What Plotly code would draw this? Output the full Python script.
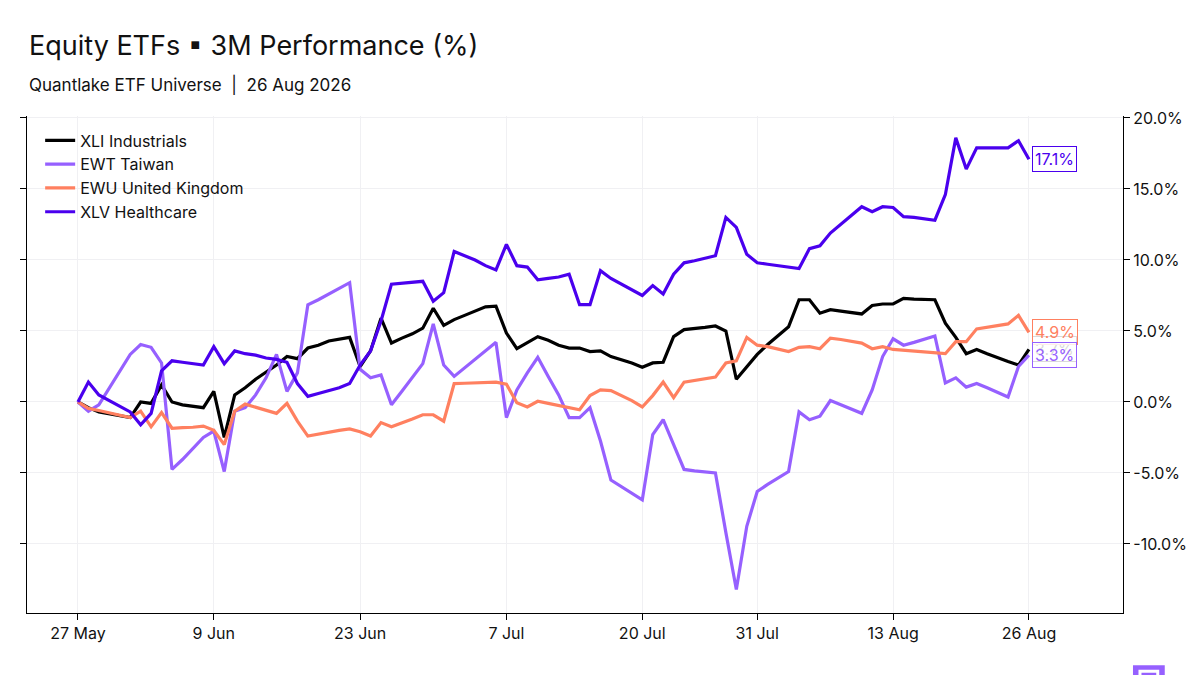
import pandas as pd
import plotly.graph_objects as go

dates = pd.date_range("2026-05-27", "2026-08-26", freq="D")

xli = [0, -0.4, -0.7, -0.85, -1.0, -1.1, 0, -0.1, 1.2, 0, -0.2, -0.3, -0.4, 0.75, -2.5, 0.5,
       1.0, 1.6, 2.1, 2.6, 3.2, 3.05, 3.8, 4.0, 4.3, 4.4, 4.55, 2.5, 3.6, 5.9, 4.15, 4.5,
       4.8, 5.2, 6.6, 5.4, 5.8, 6.1, 6.4, 6.7, 6.75, 4.85, 3.75, 4.15, 4.6, 4.35, 4.0, 3.8,
       3.8, 3.55, 3.6, 3.2, 3.0, 2.75, 2.45, 2.75, 2.8, 4.6, 5.1, 5.15, 5.25, 5.35, 5.0, 1.6,
       2.5, 3.35, 4.05, 4.7, 5.3, 7.2, 7.2, 6.25, 6.5, 6.4, 6.3, 6.2, 6.8, 6.9, 6.9, 7.3,
       7.25, 7.22, 7.2, 5.55, 4.55, 3.4, 3.7, 3.4, 3.1, 2.85, 2.6, 3.7]
ewt = [0, -0.65, -0.2, 1.0, 2.15, 3.35, 4.05, 3.85, 2.75, -4.75, -4.05, -3.25, -2.5, -2.05, -4.9, -0.65,
       -0.4, 0.5, 1.7, 3.35, 0.75, 2.05, 6.85, 7.2, 7.6, 8.0, 8.4, 2.3, 1.7, 1.9, -0.2, 0.75,
       1.7, 2.7, 5.5, 2.6, 1.8, 2.4, 3.0, 3.6, 4.2, -1.1, 0.85, 2.05, 3.15, 1.8, 0.5, -1.1,
       -1.1, -0.4, -2.75, -5.5, -5.95, -6.4, -6.9, -2.3, -1.25, -3.0, -4.75, -4.85, -4.95, -5.0, -9.2, -13.2,
       -8.75, -6.3, -5.8, -5.35, -4.9, -0.7, -1.25, -1.0, 0.1, -0.2, -0.5, -0.8, 0.85, 3.2, 4.45, 4.0,
       4.2, 4.45, 4.65, 1.35, 1.7, 1.05, 1.3, 1.0, 0.7, 0.35, 2.5, 3.3]
ewu = [0, -0.45, -0.6, -0.75, -0.9, -1.1, -0.65, -1.75, -0.75, -1.85, -1.8, -1.78, -1.7, -2.0, -3.0, -0.65,
       -0.15, -0.35, -0.55, -0.8, -0.1, -1.35, -2.4, -2.25, -2.1, -2.0, -1.9, -2.1, -2.4, -1.45, -1.75, -1.5,
       -1.2, -0.9, -0.9, -1.35, 1.3, 1.32, 1.35, 1.38, 1.4, 1.25, -0.05, -0.35, 0.05, -0.1, -0.25, -0.4,
       -0.55, 0.45, 0.85, 0.8, 0.45, 0.1, -0.35, 0.45, 1.4, 0.3, 1.4, 1.5, 1.6, 1.75, 2.75, 2.9,
       4.55, 4.0, 3.9, 3.75, 3.55, 3.85, 3.9, 3.75, 4.5, 4.4, 4.25, 4.15, 3.75, 3.9, 3.7, 3.65,
       3.55, 3.5, 3.45, 3.4, 4.25, 4.25, 5.15, 5.25, 5.4, 5.5, 6.1, 4.9]
xlv = [0, 1.4, 0.5, 0.1, -0.3, -0.7, -1.6, -0.8, 2.2, 2.9, 2.8, 2.7, 2.6, 3.9, 2.7, 3.6,
       3.4, 3.3, 3.1, 3.0, 2.8, 1.3, 0.4, 0.6, 0.8, 1.0, 1.3, 2.6, 3.6, 5.7, 8.3, 8.35,
       8.4, 8.5, 7.1, 7.7, 10.6, 10.3, 10.0, 9.6, 9.3, 11.1, 9.6, 9.5, 8.6, 8.7, 8.8, 9.0,
       6.85, 6.85, 9.25, 8.7, 8.3, 7.9, 7.5, 8.2, 7.6, 9.0, 9.8, 9.95, 10.1, 10.3, 13.0, 12.3,
       10.4, 9.8, 9.7, 9.6, 9.5, 9.4, 10.8, 11.0, 11.9, 12.5, 13.1, 13.75, 13.4, 13.75, 13.7, 13.05,
       13.0, 12.9, 12.8, 14.6, 18.6, 16.4, 17.9, 17.9, 17.9, 17.9, 18.4, 17.1]

names = ["XLI Industrials", "EWT Taiwan", "EWU United Kingdom", "XLV Healthcare"]
colors = ["#000000", "#9660FF", "#FF8060", "#4A00EE"]
series = [xli, ewt, ewu, xlv]

tick_dates = ["2026-05-27", "2026-06-09", "2026-06-23", "2026-07-07",
              "2026-07-20", "2026-07-31", "2026-08-13", "2026-08-26"]
tick_text = ["27 May", "9 Jun", "23 Jun", "7 Jul", "20 Jul", "31 Jul", "13 Aug", "26 Aug"]

fig = go.Figure()
for name, col, ys in zip(names, colors, series):
    fig.add_trace(go.Scatter(x=dates, y=ys, name=name, mode="lines",
                             line=dict(color=col, width=3.2)))

# end labels, black one first so the others sit on top of it
for i in [0, 2, 1, 3]:
    fig.add_annotation(x=dates[-1], y=series[i][-1], text=f"{series[i][-1]:.1f}%",
                       xanchor="left", yanchor="middle", xshift=3, showarrow=False,
                       font=dict(color=colors[i], size=16),
                       bgcolor="rgba(255,255,255,0.85)", bordercolor=colors[i],
                       borderwidth=1, borderpad=2)

fig.add_annotation(x=0, y=1.141, xref="paper", yref="paper", xanchor="left", yanchor="middle",
                   text="Equity ETFs ▪ 3M Performance (%)", showarrow=False,
                   font=dict(size=27, color="#111111"))
fig.add_annotation(x=0, y=1.064, xref="paper", yref="paper", xanchor="left", yanchor="middle",
                   text="Quantlake ETF Universe  |  26 Aug 2026", showarrow=False,
                   font=dict(size=17, color="#111111"))

fig.update_layout(
    width=1200, height=675,
    paper_bgcolor="white", plot_bgcolor="white",
    font=dict(family="Inter, sans-serif", color="#111111", size=16),
    margin=dict(l=12, r=85, t=108, b=70),
    legend=dict(x=0.012, y=0.985, xanchor="left", yanchor="top", bgcolor="rgba(0,0,0,0)",
                font=dict(size=16), tracegroupgap=0),
    showlegend=True,
)
fig.update_xaxes(range=["2026-05-22 03:00", "2026-09-04"], tickvals=tick_dates, ticktext=tick_text,
                 showgrid=True, gridcolor="#F0F0F3", showline=True, linecolor="black", linewidth=1.2,
                 ticks="outside", ticklen=6, tickcolor="black", tickfont=dict(size=16))
fig.update_yaxes(range=[-14.86, 20.14], side="right", tickvals=[-10, -5, 0, 5, 10, 15, 20],
                 ticktext=["-10.0%", "-5.0%", "0.0%", "5.0%", "10.0%", "15.0%", "20.0%"],
                 showgrid=True, gridcolor="#F0F0F3", zeroline=False, showline=True,
                 linecolor="black", linewidth=1.2, mirror="ticks", ticks="outside", ticklen=6,
                 tickcolor="black", tickfont=dict(size=16))

# logo badge
fig.add_shape(type="rect", xref="paper", yref="paper", x0=1.0091, x1=1.0381, y0=-0.105, y1=-0.158,
              fillcolor="#9660FF", line_width=0)
fig.add_shape(type="rect", xref="paper", yref="paper", x0=1.0155, x1=1.0317, y0=-0.117, y1=-0.143,
              fillcolor="rgba(0,0,0,0)", line=dict(color="white", width=3))

fig.write_html("out.html")
